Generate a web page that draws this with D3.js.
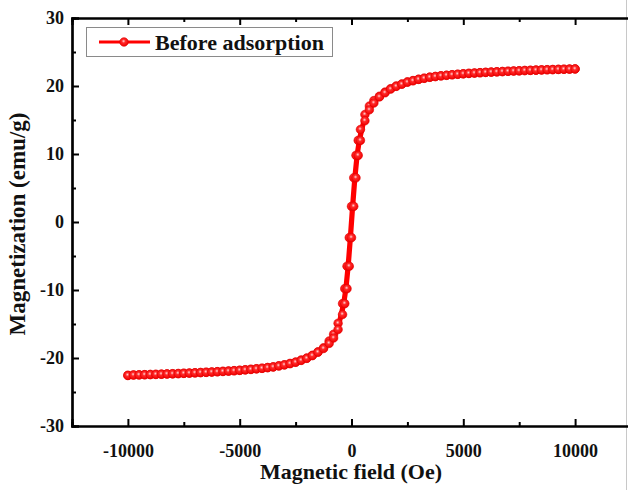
<!DOCTYPE html>
<html>
<head>
<meta charset="utf-8">
<script src="https://cdn.jsdelivr.net/npm/d3@7"></script>
<style>
  body { margin: 0; background: #fff; }
  svg { display: block; }
  text { font-family: "Liberation Serif", "Times New Roman", serif; font-weight: bold; fill: #111; }
</style>
</head>
<body>
<div class="plot"></div>
<script>
// field values (Oe), same grid for both branches, listed from +10000 to -10000
const field = [10000, 9750, 9500, 9250, 9000, 8750, 8500, 8250, 8000, 7750, 7500, 7250,
  7000, 6750, 6500, 6250, 6000, 5750, 5500, 5250, 5000, 4750, 4500, 4250, 4000, 3750,
  3500, 3250, 3000, 2750, 2500, 2250, 2000, 1750, 1500, 1250,
  1000, 800, 600, 400, 300, 200, 100, 0, -100, -200, -300, -400, -600, -800, -1000,
  -1250, -1500, -1750, -2000, -2250, -2500, -2750, -3000, -3250, -3500, -3750, -4000,
  -4250, -4500, -4750, -5000, -5250, -5500, -5750, -6000, -6250, -6500, -6750, -7000,
  -7250, -7500, -7750, -8000, -8250, -8500, -8750, -9000, -9250, -9500, -9750, -10000];

// descending branch (emu/g)
const magDown = [22.52, 22.49, 22.47, 22.45, 22.42, 22.40, 22.37, 22.34, 22.31, 22.28, 22.24, 22.21,
  22.17, 22.13, 22.09, 22.05, 22.01, 21.96, 21.91, 21.86, 21.80, 21.73, 21.66, 21.58, 21.50, 21.40,
  21.30, 21.15, 21.00, 20.80, 20.60, 20.30, 20.00, 19.60, 19.10, 18.50,
  17.85, 17.05, 15.8, 13.6, 12.0, 9.8, 6.5, 2.3, -2.3, -6.5, -9.8, -12.0, -14.9, -16.5, -17.5,
  -18.50, -19.10, -19.60, -20.00, -20.30, -20.60, -20.80, -21.00, -21.15, -21.30, -21.40, -21.50,
  -21.58, -21.66, -21.73, -21.80, -21.86, -21.91, -21.96, -22.01, -22.05, -22.09, -22.13, -22.17,
  -22.21, -22.24, -22.28, -22.31, -22.34, -22.37, -22.40, -22.42, -22.45, -22.47, -22.49, -22.56];

// ascending branch (emu/g), same field grid
const magUp = [22.50, 22.48, 22.46, 22.44, 22.41, 22.39, 22.36, 22.33, 22.30, 22.27, 22.23, 22.20,
  22.16, 22.12, 22.08, 22.04, 22.00, 21.95, 21.90, 21.85, 21.79, 21.72, 21.65, 21.57, 21.49, 21.39,
  21.28, 21.13, 20.97, 20.77, 20.56, 20.26, 19.95, 19.55, 19.00, 18.40,
  17.5, 16.5, 14.9, 12.0, 9.8, 6.5, 2.3, -2.3, -6.5, -9.8, -12.0, -13.6, -15.8, -17.05, -17.85,
  -18.60, -19.15, -19.65, -20.05, -20.35, -20.63, -20.83, -21.02, -21.17, -21.32, -21.42, -21.52,
  -21.60, -21.68, -21.75, -21.82, -21.88, -21.93, -21.98, -22.03, -22.07, -22.11, -22.15, -22.19,
  -22.23, -22.26, -22.30, -22.33, -22.36, -22.39, -22.42, -22.44, -22.47, -22.49, -22.51, -22.56];

const xTicks = [-10000, -5000, 0, 5000, 10000];
const xMinor = [-7500, -2500, 2500, 7500];
const yTicks = [-30, -20, -10, 0, 10, 20, 30];
const yMinor = [-25, -15, -5, 5, 15, 25];
const seriesName = "Before adsorption";

const W = 628, H = 490;
const svg = d3.select(".plot").append("svg").attr("width", W).attr("height", H);

const x = d3.scaleLinear().domain([-12500, 12500]).range([72, 631]);
const y = d3.scaleLinear().domain([-30, 30]).range([426, 18]);

// sphere-like marker fill
const grad = svg.append("defs").append("radialGradient")
  .attr("id", "ball").attr("cx", "45%").attr("cy", "40%").attr("r", "60%");
grad.append("stop").attr("offset", "0%").attr("stop-color", "#ffd6d6");
grad.append("stop").attr("offset", "35%").attr("stop-color", "#ff2a2a");
grad.append("stop").attr("offset", "100%").attr("stop-color", "#f00000");

// image border line on the right
svg.append("line").attr("x1", 626.5).attr("x2", 626.5).attr("y1", 0).attr("y2", H)
  .attr("stroke", "#c8c8c8").attr("stroke-width", 1);

// data
const down = field.map((f, i) => [f, magDown[i]]);
const up = field.map((f, i) => [f, magUp[i]]).reverse();
const line = d3.line().x(d => x(d[0])).y(d => y(d[1]));

[down, up].forEach(branch => {
  svg.append("path").datum(branch)
    .attr("d", line).attr("fill", "none")
    .attr("stroke", "#ff0000").attr("stroke-width", 3);
});
[down, up].forEach(branch => {
  svg.append("g").selectAll("circle").data(branch).enter().append("circle")
    .attr("cx", d => x(d[0])).attr("cy", d => y(d[1])).attr("r", 4.3)
    .attr("fill", "url(#ball)").attr("stroke", "#e00000").attr("stroke-width", 0.6);
});

// axes
const fmt = d => String(d);
function styleAxis(g) {
  g.select(".domain").attr("stroke", "#000").attr("stroke-width", 2.2);
  g.selectAll(".tick line").attr("stroke", "#000").attr("stroke-width", 2);
  g.selectAll("text").style("font-size", "18px").attr("fill", "#111");
}

svg.append("g").attr("transform", "translate(0,426)")
  .call(d3.axisBottom(x).tickValues(xTicks).tickSize(-7).tickPadding(18).tickFormat(fmt))
  .call(styleAxis);
svg.append("g").attr("transform", "translate(0,426)")
  .call(d3.axisBottom(x).tickValues(xMinor).tickSize(-4).tickFormat(""))
  .call(styleAxis);
svg.append("g").attr("transform", "translate(0,18)")
  .call(d3.axisTop(x).tickValues(xTicks).tickSize(-7).tickFormat(""))
  .call(styleAxis);
svg.append("g").attr("transform", "translate(0,18)")
  .call(d3.axisTop(x).tickValues(xMinor).tickSize(-4).tickFormat(""))
  .call(styleAxis);

svg.append("g").attr("transform", "translate(72,0)")
  .call(d3.axisLeft(y).tickValues(yTicks).tickSize(-7).tickPadding(8).tickFormat(fmt))
  .call(styleAxis);
svg.append("g").attr("transform", "translate(72,0)")
  .call(d3.axisLeft(y).tickValues(yMinor).tickSize(-4).tickFormat(""))
  .call(styleAxis);

// axis titles
svg.append("text").attr("x", 351).attr("y", 479).attr("text-anchor", "middle")
  .style("font-size", "22px").text("Magnetic field (Oe)");
svg.append("text").attr("transform", "translate(25,224) rotate(-90)")
  .attr("text-anchor", "middle").style("font-size", "23px").text("Magnetization (emu/g)");

// legend
const lg = svg.append("g");
lg.append("rect").attr("x", 86.5).attr("y", 27.5).attr("width", 246).attr("height", 29)
  .attr("fill", "#fff").attr("stroke", "#8a8a8a").attr("stroke-width", 1);
lg.append("line").attr("x1", 99).attr("x2", 150).attr("y1", 42).attr("y2", 42)
  .attr("stroke", "#ff0000").attr("stroke-width", 3);
lg.append("circle").attr("cx", 124).attr("cy", 42).attr("r", 4.3)
  .attr("fill", "url(#ball)").attr("stroke", "#e00000").attr("stroke-width", 0.6);
lg.append("text").attr("x", 155).attr("y", 50).style("font-size", "22px").text(seriesName);
</script>
</body>
</html>
